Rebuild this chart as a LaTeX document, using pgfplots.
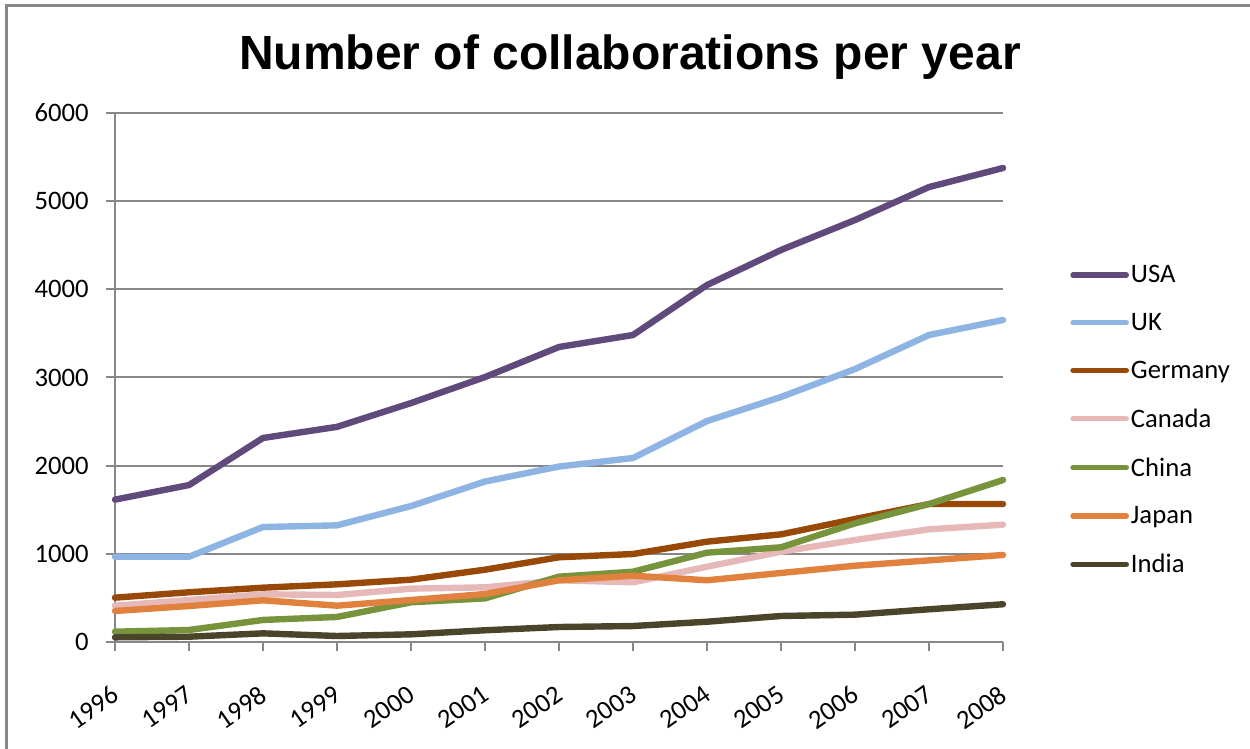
\documentclass[border=0pt]{standalone}
\usepackage{pgfplots}
\pgfplotsset{compat=1.18}
\usepackage{fontspec}
\setmainfont{Carlito}
\newfontfamily\titlefont{Liberation Sans}

\definecolor{cUSA}{HTML}{604A7B}
\definecolor{cUK}{HTML}{8DB4E2}
\definecolor{cGermany}{HTML}{984807}
\definecolor{cCanada}{HTML}{E6B9B8}
\definecolor{cChina}{HTML}{77933C}
\definecolor{cJapan}{HTML}{E0823D}
\definecolor{cIndia}{HTML}{4A452A}
\definecolor{axgray}{HTML}{878787}

\begin{document}
\begin{tikzpicture}[x=0.75pt,y=0.75pt]
\path[use as bounding box] (0,0) rectangle (1250,749);
% outer frame (only top and left edges are visible)
\draw[axgray, line width=2pt] (6.5,-2) -- (6.5,743.5) -- (1252,743.5);
\node[anchor=base, font=\titlefont\bfseries\fontsize{36}{40}\selectfont] at (630,679)
  {Number of collaborations per year};

\begin{axis}[
  at={(86.25pt,80.25pt)}, anchor=south west,
  scale only axis, width=666pt, height=396.75pt,
  xmin=1996, xmax=2008, ymin=0, ymax=6000,
  xtick={1996,1997,...,2008},
  ytick={0,1000,...,6000},
  /pgf/number format/1000 sep={},
  /pgf/number format/assume math mode=true,
  yticklabel style={font=\fontsize{20}{24}\selectfont, anchor=east, xshift=-9.75pt},
  xticklabel style={font=\fontsize{20}{24}\selectfont, inner sep=0pt,
    anchor=north east, xshift=-3.5pt, yshift=-25pt, rotate=35},
  axis x line*=bottom, axis y line*=left,
  axis line style={axgray, line width=1.5pt, -},
  tick style={axgray, line width=1.5pt},
  tick align=outside, major tick length=6.5pt,
  ymajorgrids, grid style={axgray, line width=1.5pt},
  clip=false,
  every axis plot/.append style={line width=4.8pt, line join=round, line cap=round},
  legend style={at={(1.0755,0.4197)}, anchor=west, draw=none, fill=none,
    font=\fontsize{20}{24}\selectfont, row sep=18.35pt, inner sep=0pt,
    nodes={inner sep=1.5pt}},
  legend cell align=left,
  legend image code/.code={\draw[#1, line width=4pt, line cap=round] (0pt,0pt) -- (40pt,0pt);},
]
\addplot[cUSA] coordinates {(1996,1615) (1997,1780) (1998,2314) (1999,2440) (2000,2710) (2001,3005) (2002,3346) (2003,3482) (2004,4049) (2005,4446) (2006,4786) (2007,5160) (2008,5376)};
\addlegendentry{USA}
\addplot[cUK] coordinates {(1996,967) (1997,967) (1998,1304) (1999,1323) (2000,1542) (2001,1820) (2002,1990) (2003,2087) (2004,2506) (2005,2779) (2006,3096) (2007,3482) (2008,3652)};
\addlegendentry{UK}
\addplot[cGermany] coordinates {(1996,503) (1997,564) (1998,616) (1999,654) (2000,707) (2001,820) (2002,961) (2003,998) (2004,1138) (2005,1221) (2006,1395) (2007,1565) (2008,1565)};
\addlegendentry{Germany}
\addplot[cCanada] coordinates {(1996,412) (1997,476) (1998,541) (1999,533) (2000,605) (2001,620) (2002,700) (2003,677) (2004,854) (2005,1024) (2006,1157) (2007,1278) (2008,1331)};
\addlegendentry{Canada}
\addplot[cChina] coordinates {(1996,117) (1997,136) (1998,250) (1999,284) (2000,450) (2001,495) (2002,741) (2003,797) (2004,1013) (2005,1074) (2006,1346) (2007,1565) (2008,1837)};
\addlegendentry{China}
\addplot[cJapan] coordinates {(1996,352) (1997,408) (1998,473) (1999,412) (2000,476) (2001,544) (2002,700) (2003,752) (2004,700) (2005,783) (2006,865) (2007,926) (2008,987)};
\addlegendentry{Japan}
\addplot[cIndia] coordinates {(1996,53) (1997,60) (1998,98) (1999,68) (2000,87) (2001,133) (2002,170) (2003,181) (2004,230) (2005,295) (2006,310) (2007,371) (2008,428)};
\addlegendentry{India}
\end{axis}
\end{tikzpicture}
\end{document}
